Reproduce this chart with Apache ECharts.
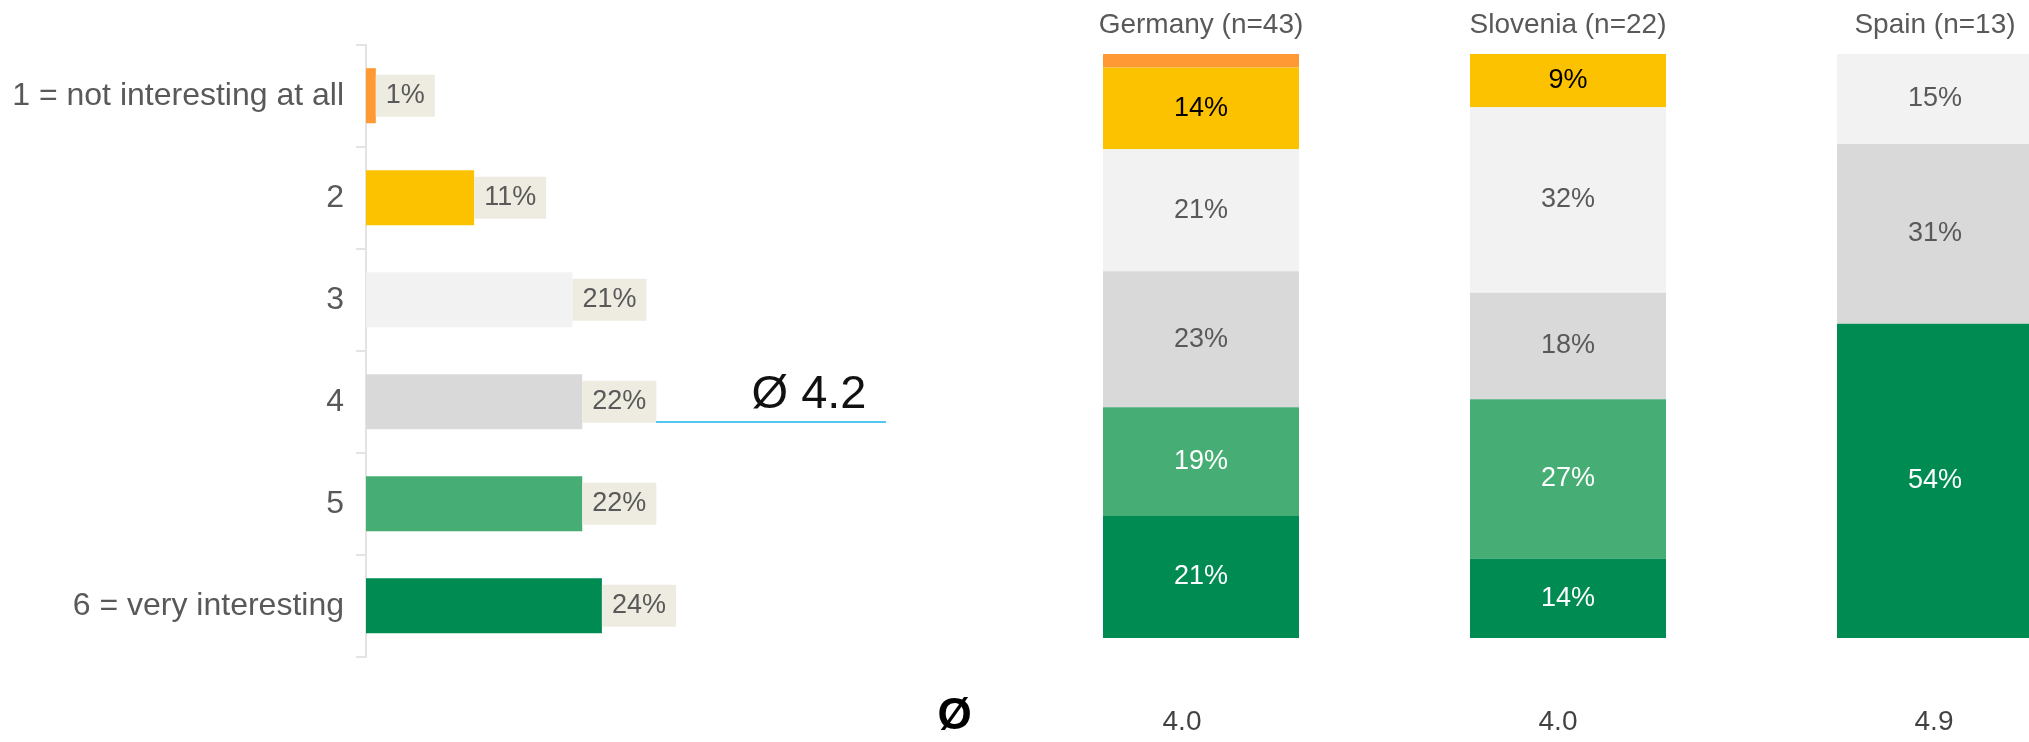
<!DOCTYPE html>
<html>
<head>
<meta charset="utf-8">
<title>Interest rating by country</title>
<script src="https://cdn.jsdelivr.net/npm/echarts@6/dist/echarts.min.js"></script>
<style>
  html, body { margin: 0; padding: 0; background: #fff; }
  #chart { width: 2029px; height: 742px; }
</style>
</head>
<body>
<div id="chart"></div>
<script>
// rating scale
const ratingLabels = ['1 = not interesting at all', '2', '3', '4', '5', '6 = very interesting'];
const ratingColors = ['#ff9933', '#fcc200', '#f2f2f2', '#d9d9d9', '#46ae74', '#008b52'];
const insideLabelColors = ['#000000', '#000000', '#595959', '#595959', '#ffffff', '#ffffff'];

// overall distribution (%) and mean
const overallShares = [1, 11, 21, 22, 22, 24];
const overallMean = 4.2;

// per country distribution (%), top = rating 1
const countries = ['Germany (n=43)', 'Slovenia (n=22)', 'Spain (n=13)'];
const germanyShares = [2.3, 14.0, 20.9, 23.3, 18.6, 20.9];
const sloveniaShares = [0, 9.1, 31.8, 18.2, 27.3, 13.6];
const spainShares = [0, 0, 15.4, 30.8, 0, 53.8];
const countryMeans = [4.0, 4.0, 4.9];

const FONT = '"Liberation Sans", Arial, sans-serif';
// where the mean marker line runs along the left value axis
const meanLineFrom = 29.5;
const meanLineTo = 52.9;

const myChart = echarts.init(document.getElementById('chart'));

const countrySeries = ratingLabels.map((name, k) => ({
  name: name,
  type: 'bar',
  stack: 'country',
  xAxisIndex: 1,
  yAxisIndex: 2,
  barWidth: 196,
  data: [germanyShares[k], sloveniaShares[k], spainShares[k]],
  itemStyle: { color: ratingColors[k] },
  label: {
    show: true,
    position: 'inside',
    fontFamily: FONT,
    fontSize: 27,
    color: insideLabelColors[k],
    formatter: p => (p.value >= 5 ? Math.round(p.value) + '%' : '')
  }
}));

const option = {
  animation: false,
  textStyle: { fontFamily: FONT },
  grid: [
    // left: overall distribution
    { left: 366, top: 44.7, width: 983, height: 612, outerBoundsMode: 'none' },
    // right: stacked bars per country (Spain runs off the edge)
    { left: 1017.5, top: 54, width: 1101, height: 584, outerBoundsMode: 'none' },
    // bottom row: country means
    { left: 994, top: 697, width: 1128, height: 50, outerBoundsMode: 'none' }
  ],
  xAxis: [
    { gridIndex: 0, type: 'value', min: 0, max: 100, show: false },
    {
      gridIndex: 1,
      type: 'category',
      position: 'top',
      data: countries,
      axisLine: { show: false },
      axisTick: { show: false },
      axisLabel: { fontSize: 28, color: '#595959', margin: 15, fontFamily: FONT }
    },
    { gridIndex: 2, type: 'category', data: countries, show: false }
  ],
  yAxis: [
    {
      gridIndex: 0,
      type: 'category',
      inverse: true,
      data: ratingLabels,
      axisLine: { show: true, lineStyle: { color: '#e3e3e3', width: 2 } },
      axisTick: { show: true, length: 10, lineStyle: { color: '#e3e3e3', width: 2 } },
      axisLabel: { fontSize: 32, color: '#595959', margin: 22, fontFamily: FONT }
    },
    // same grid, numeric rating position for the mean marker
    { gridIndex: 0, type: 'value', min: 0.5, max: 6.5, inverse: true, show: false },
    { gridIndex: 1, type: 'value', min: 0, max: 100, inverse: true, show: false },
    { gridIndex: 2, type: 'value', min: 0, max: 1, show: false }
  ],
  series: [
    {
      type: 'bar',
      xAxisIndex: 0,
      yAxisIndex: 0,
      barWidth: '54%',
      data: overallShares.map((v, i) => ({ value: v, itemStyle: { color: ratingColors[i] } })),
      label: {
        show: true,
        position: 'right',
        distance: 0,
        formatter: '{c}%',
        fontFamily: FONT,
        fontSize: 27,
        lineHeight: 30,
        color: '#595959',
        backgroundColor: '#eeece1',
        padding: [6, 10]
      }
    },
    {
      type: 'line',
      xAxisIndex: 0,
      yAxisIndex: 1,
      symbol: 'circle',
      symbolSize: 1,
      itemStyle: { color: 'rgba(0,0,0,0)' },
      lineStyle: { color: '#55c5f2', width: 2 },
      data: [
        [meanLineFrom, overallMean],
        {
          value: [meanLineTo, overallMean],
          label: {
            show: true,
            position: [0, 0],
            align: 'right',
            verticalAlign: 'bottom',
            offset: [-19, -3],
            formatter: 'Ø ' + overallMean.toFixed(1),
            fontFamily: FONT,
            fontSize: 47,
            lineHeight: 47,
            color: '#111111'
          }
        }
      ]
    },
    ...countrySeries,
    {
      type: 'scatter',
      xAxisIndex: 2,
      yAxisIndex: 3,
      symbolSize: 1,
      itemStyle: { color: 'rgba(0,0,0,0)' },
      data: countryMeans.map((m, i) => [i, 0.5, m]),
      label: {
        show: true,
        position: 'inside',
        fontFamily: FONT,
        fontSize: 28,
        color: '#111111',
        formatter: p => p.value[2].toFixed(1)
      }
    }
  ],
  graphic: [
    {
      type: 'text',
      x: 954.5,
      y: 716.5,
      style: {
        text: 'Ø',
        font: 'bold 44px ' + FONT,
        fill: '#000000',
        align: 'center',
        verticalAlign: 'middle'
      }
    }
  ]
};

myChart.setOption(option);
window.addEventListener('resize', () => myChart.resize());
</script>
</body>
</html>
